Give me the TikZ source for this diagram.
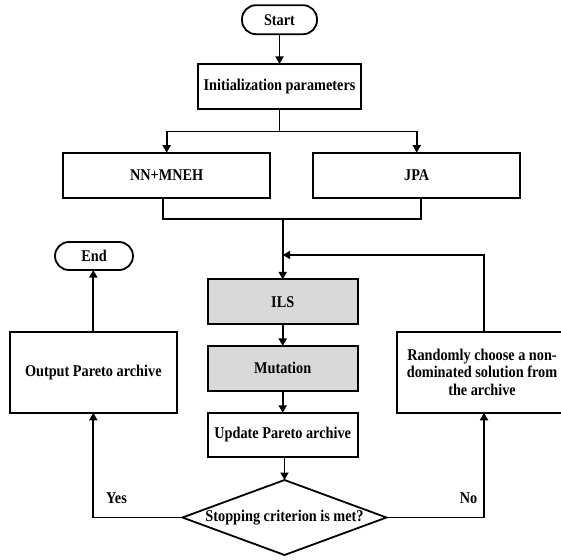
\documentclass[tikz,border=0pt]{standalone}
\usepackage{fontspec}
\setmainfont{Liberation Serif}[FakeStretch=0.87]
\usetikzlibrary{arrows.meta}
\begin{document}
\begin{tikzpicture}[x=1pt,y=-1pt,
  every node/.style={font=\bfseries\fontsize{16.4}{17.5}\selectfont, inner sep=0pt, outer sep=0pt},
  box/.style={draw, line width=1.8pt, rectangle, align=center},
  gbox/.style={box, fill=black!15},
  term/.style={draw, line width=1.8pt, rectangle, rounded corners=14pt},
  ln/.style={line width=1.8pt},
  arr/.style={ln, -{Triangle[length=7.5pt,width=8pt]}}]
\useasboundingbox (0,0) rectangle (561,559);
\clip (0,0) rectangle (561,559);
\fill[white] (0,0) rectangle (561,559);

\node[term, minimum width=75pt, minimum height=29pt] (start) at (279.5,19.7) {Start};
\node[box, minimum width=163pt, minimum height=44.7pt] (init) at (279.5,86.3) {Initialization parameters};
\node[box, minimum width=206.7pt, minimum height=45.6pt] (nn) at (166.7,175.5) {NN+MNEH};
\node[box, minimum width=206.7pt, minimum height=45.6pt] (jpa) at (416.7,175.5) {JPA};
\node[gbox, minimum width=150pt, minimum height=44.7pt] (ils) at (282.7,301.7) {ILS};
\node[gbox, minimum width=150pt, minimum height=44.7pt] (mut) at (282.7,368.3) {Mutation};
\node[box, minimum width=150pt, minimum height=44.3pt] (upd) at (282.7,435) {Update Pareto archive};
\coordinate (decW) at (182.5,517.5);
\coordinate (decE) at (386.5,517.5);
\coordinate (decN) at (284.5,480);
\coordinate (decS) at (284.5,555);
\draw[ln] (decW) -- (decN) -- (decE) -- (decS) -- cycle;
\node (dec) at (284.5,517.5) {Stopping criterion is met?};
\node[box, minimum width=166.7pt, minimum height=81pt] (out) at (93.3,372.3) {Output Pareto archive};
\node[box, minimum width=170pt, minimum height=81pt] (rnd) at (482,372.3) {Randomly choose a non-\\dominated solution from\\the archive};
\node[term, minimum width=78pt, minimum height=28pt] (end) at (94,256) {End};

\coordinate (br) at (279.5,131.5);
\coordinate (mg) at (282.7,219.3);
\coordinate (lp) at (282.7,255);

\draw[arr] (start.south) -- (init.north);
\draw[ln] (init.south) -- (br);
\draw[arr] (br) -| (nn.north);
\draw[arr] (br) -| (jpa.north);
\draw[ln] ([xshift=-4pt]nn.south) |- (mg) -| ([xshift=4pt]jpa.south);
\draw[arr] (mg) -- (ils.north);
\draw[arr] (ils) -- (mut);
\draw[arr] (mut) -- (upd);
\draw[arr] ([xshift=1.8pt]upd.south) -- (decN);
\draw[arr] (decW) -| (out.south);
\draw[arr] (decE) -| ([xshift=2pt]rnd.south);
\draw[arr] ([xshift=2pt]rnd.north) |- (lp);
\draw[arr] (out.north) -- (out.north |- end.south);

\node (yes) at (116.5,498) {Yes};
\node (no) at (468.5,498) {No};
\end{tikzpicture}
\end{document}
